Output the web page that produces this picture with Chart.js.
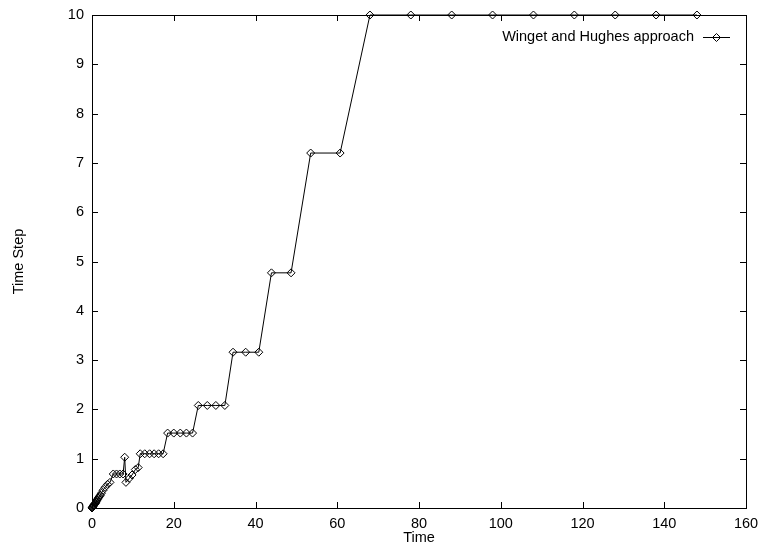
<!DOCTYPE html>
<html>
<head>
<meta charset="utf-8">
<script src="https://cdn.jsdelivr.net/npm/chart.js@4.4.1/dist/chart.umd.min.js"></script>
<style>
  html, body { margin: 0; padding: 0; background: #fff; }
  #wrap { width: 759px; height: 548px; }
</style>
</head>
<body>
<div id="wrap"><canvas id="myChart" width="759" height="548"></canvas></div>
<script>
// values
const seriesLabel = 'Winget and Hughes approach';
const timeValues = [
  0, 0.05, 0.1, 0.16, 0.22, 0.3, 0.38, 0.46, 0.55, 0.65, 0.75, 0.86, 0.98, 1.1, 1.23,
  1.37, 1.52, 1.68, 1.85, 2.05, 2.3, 2.7, 3.2, 3.8, 4.4,
  5.2, 6.0, 6.8, 7.6, 8.0, 8.3, 9.1, 9.8, 10.6, 11.3,
  11.8, 12.9, 14.1, 15.2, 16.3, 17.4,
  18.5, 20.0, 21.6, 23.1, 24.6,
  26.0, 28.2, 30.3, 32.5,
  34.5, 37.6, 40.8,
  43.9, 48.7,
  53.5, 60.7,
  68, 78, 88, 98, 108, 118, 128, 138, 148
];
const stepValues = [
  0, 0.005, 0.01, 0.02, 0.03, 0.04, 0.05, 0.06, 0.07, 0.08, 0.09, 0.1, 0.12, 0.14, 0.16,
  0.18, 0.2, 0.22, 0.24, 0.26, 0.3, 0.36, 0.42, 0.48, 0.52,
  0.69, 0.69, 0.69, 0.69, 1.03, 0.52, 0.6, 0.67, 0.78, 0.82,
  1.1, 1.1, 1.1, 1.1, 1.1, 1.1,
  1.52, 1.52, 1.52, 1.52, 1.52,
  2.08, 2.08, 2.08, 2.08,
  3.16, 3.16, 3.16,
  4.77, 4.77,
  7.2, 7.2,
  10, 10, 10, 10, 10, 10, 10, 10, 10
];
const xTicks = [0, 20, 40, 60, 80, 100, 120, 140, 160];
const yTicks = [0, 1, 2, 3, 4, 5, 6, 7, 8, 9, 10];

const FONT = '"Liberation Sans", Arial, Helvetica, sans-serif';
const FSIZE = 14.5;

Chart.defaults.font.family = FONT;
Chart.defaults.font.size = FSIZE;
Chart.defaults.color = '#000';

// gnuplot-like frame with inward ticks on all four sides
const framePlugin = {
  id: 'frame',
  beforeDatasetsDraw(chart) {
    const {ctx, chartArea: a, scales} = chart;
    const len = 6;
    ctx.save();
    ctx.strokeStyle = '#000';
    ctx.lineWidth = 1;
    ctx.beginPath();
    xTicks.forEach(v => {
      const px = Math.round(scales.x.getPixelForValue(v)) + 0.5;
      ctx.moveTo(px, a.bottom); ctx.lineTo(px, a.bottom - len);
      ctx.moveTo(px, a.top); ctx.lineTo(px, a.top + len);
    });
    yTicks.forEach(v => {
      const py = Math.round(scales.y.getPixelForValue(v)) + 0.5;
      ctx.moveTo(a.left, py); ctx.lineTo(a.left + len, py);
      ctx.moveTo(a.right, py); ctx.lineTo(a.right - len, py);
    });
    ctx.stroke();
    ctx.strokeRect(Math.round(a.left) + 0.5, Math.round(a.top) + 0.5,
      Math.round(a.right - a.left), Math.round(a.bottom - a.top));
    ctx.restore();
  },
  afterDraw(chart) {
    // key in the top right corner, text before the sample
    const {ctx, chartArea: a} = chart;
    const ds = chart.data.datasets[0];
    const y = a.top + 22;
    const lineEnd = a.right - 16;
    const lineStart = lineEnd - 27;
    ctx.save();
    ctx.font = FSIZE + 'px ' + FONT;
    ctx.fillStyle = '#000';
    ctx.textAlign = 'right';
    ctx.textBaseline = 'middle';
    ctx.fillText(ds.label, lineStart - 9, y);
    ctx.strokeStyle = '#000';
    ctx.lineWidth = 1;
    ctx.beginPath();
    ctx.moveTo(lineStart, y + 0.5);
    ctx.lineTo(lineEnd, y + 0.5);
    ctx.stroke();
    ctx.fillStyle = 'rgba(0,0,0,0)';
    Chart.helpers.drawPoint(ctx, {
      pointStyle: 'rectRot', radius: ds.pointRadius, borderWidth: 1, rotation: 0
    }, (lineStart + lineEnd) / 2, y + 0.5);
    ctx.restore();
  }
};

const points = timeValues.map((t, i) => ({x: t, y: stepValues[i]}));

new Chart(document.getElementById('myChart').getContext('2d'), {
  type: 'scatter',
  data: {
    datasets: [{
      label: seriesLabel,
      data: points,
      showLine: true,
      borderColor: '#000',
      borderWidth: 1,
      pointStyle: 'rectRot',
      pointRadius: 4,
      pointBorderColor: '#000',
      pointBackgroundColor: 'rgba(0,0,0,0)',
      pointBorderWidth: 1,
      tension: 0,
      clip: false
    }]
  },
  options: {
    responsive: false,
    animation: false,
    events: [],
    layout: { padding: { top: 15, right: 13, left: 0, bottom: 0 } },
    plugins: {
      legend: { display: false },
      tooltip: { enabled: false }
    },
    scales: {
      x: {
        type: 'linear',
        min: 0,
        max: 160,
        afterBuildTicks: s => { s.ticks = xTicks.map(v => ({value: v})); },
        afterFit: s => { s.height = 40; s.paddingRight = 0; s.paddingLeft = 0; },
        grid: { display: false, drawTicks: false },
        border: { display: false },
        ticks: { padding: 7, maxRotation: 0 },
        title: { display: true, text: 'Time', padding: { top: 0, bottom: 1 } }
      },
      y: {
        type: 'linear',
        min: 0,
        max: 10,
        afterBuildTicks: s => { s.ticks = yTicks.map(v => ({value: v})); },
        afterFit: s => { s.width = 92; s.paddingTop = 0; s.paddingBottom = 0; },
        grid: { display: false, drawTicks: false },
        border: { display: false },
        ticks: { padding: 8 },
        title: { display: true, text: 'Time Step', padding: { top: 10, bottom: 0 } }
      }
    }
  },
  plugins: [framePlugin]
});
</script>
</body>
</html>
